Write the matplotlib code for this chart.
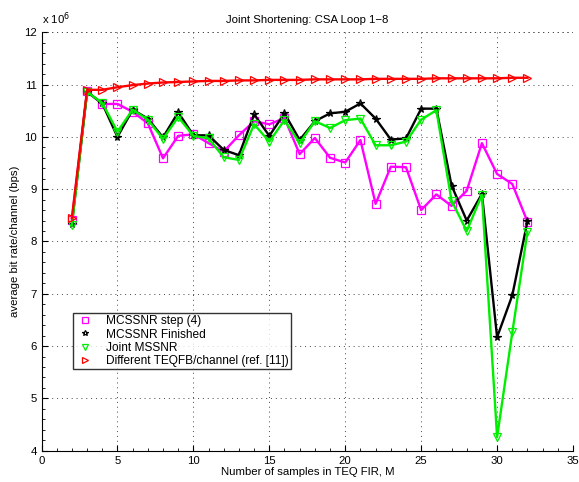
import matplotlib.pyplot as plt
from matplotlib.ticker import MultipleLocator

plt.rcParams['font.family'] = ['Liberation Sans', 'DejaVu Sans']

# bit rates in units of 1e6 bps
m = list(range(2, 33))
mcssnr_step4 = [8.42, 10.87, 10.63, 10.63, 10.48, 10.26, 9.59, 10.02, 10.05, 9.88,
                9.72, 10.03, 10.30, 10.24, 10.36, 9.67, 9.98, 9.60, 9.51, 9.94,
                8.72, 9.43, 9.42, 8.60, 8.90, 8.68, 8.97, 9.88, 9.29, 9.10, 8.38]
mcssnr_finished = [8.33, 10.86, 10.64, 10.00, 10.52, 10.35, 9.99, 10.47, 10.03, 10.03,
                   9.75, 9.65, 10.43, 10.02, 10.45, 9.94, 10.30, 10.45, 10.48, 10.64,
                   10.35, 9.95, 9.97, 10.54, 10.54, 9.07, 8.40, 8.91, 6.17, 6.97, 8.39]
joint_mssnr = [8.31, 10.86, 10.65, 10.10, 10.52, 10.33, 9.96, 10.38, 10.02, 9.97,
               9.61, 9.56, 10.24, 9.91, 10.32, 9.88, 10.30, 10.17, 10.32, 10.35,
               9.84, 9.84, 9.91, 10.33, 10.51, 8.78, 8.20, 8.89, 4.26, 6.26, 8.19]
diff_teqfb = [8.45, 10.90, 10.90, 10.95, 10.99, 11.02, 11.04, 11.05, 11.06, 11.07,
              11.07, 11.08, 11.08, 11.09, 11.09, 11.09, 11.10, 11.10, 11.10, 11.10,
              11.11, 11.11, 11.11, 11.11, 11.12, 11.12, 11.12, 11.12, 11.12, 11.13, 11.13]

fs = 8.2
fig = plt.figure(figsize=(5.79, 4.82), dpi=100)
ax = fig.add_axes([0.0717, 0.065, 0.918, 0.868])

kw = dict(linewidth=1.7, markersize=5.5, markerfacecolor='none', markeredgewidth=0.9)
ax.plot(m, mcssnr_step4, color='#ff00ff', marker='s', markeredgecolor='#ff00ff',
        label='MCSSNR step (4)', **kw)
ax.plot(m, mcssnr_finished, color='black', marker='*', markeredgecolor='black',
        label='MCSSNR Finished', **kw)
ax.plot(m, joint_mssnr, color='#00ee00', marker='v', markeredgecolor='#00ee00',
        label='Joint MSSNR', **kw)
ax.plot(m, diff_teqfb, color='#ff0000', marker='>', markeredgecolor='#ff0000',
        label='Different TEQFB/channel (ref. [11])', **kw)

ax.set_xlim(0, 35)
ax.set_ylim(4, 12)
ax.xaxis.set_major_locator(MultipleLocator(5))
ax.xaxis.set_minor_locator(MultipleLocator(1))
ax.yaxis.set_major_locator(MultipleLocator(1))
ax.yaxis.set_minor_locator(MultipleLocator(0.2))
ax.tick_params(which='both', direction='in', labelsize=fs, top=False, right=False)
ax.tick_params(which='major', length=4)
ax.tick_params(which='minor', length=2)
grid_kw = dict(linestyle=(0, (1, 4)), color='#444444', linewidth=0.7)
ax.grid(True, which='major', **grid_kw)
ax.spines['top'].set_visible(False)
ax.spines['right'].set_visible(False)
ax.axvline(35, **grid_kw)
ax.axhline(12, **grid_kw)

ax.set_title('Joint Shortening: CSA Loop 1\u22128', fontsize=fs, pad=7)
ax.set_xlabel('Number of samples in TEQ FIR, M', fontsize=fs, labelpad=1)
ax.set_ylabel('average bit rate/channel (bps)', fontsize=fs, labelpad=3)
ax.text(0.0, 1.012, r'x 10$^{6}$', transform=ax.transAxes, fontsize=fs,
        ha='left', va='bottom')

leg = ax.legend(loc='lower left', bbox_to_anchor=(0.0587, 0.1945), fontsize=8.6,
                frameon=True, fancybox=False, borderaxespad=0, handlelength=1.6,
                labelspacing=0.1, borderpad=0.2, handletextpad=1.0, markerscale=0.8)
leg.get_frame().set_edgecolor('black')
leg.get_frame().set_linewidth(1.0)
for h in leg.legend_handles:
    h.set_linestyle('none')

fig.savefig('out.png', dpi=100)
